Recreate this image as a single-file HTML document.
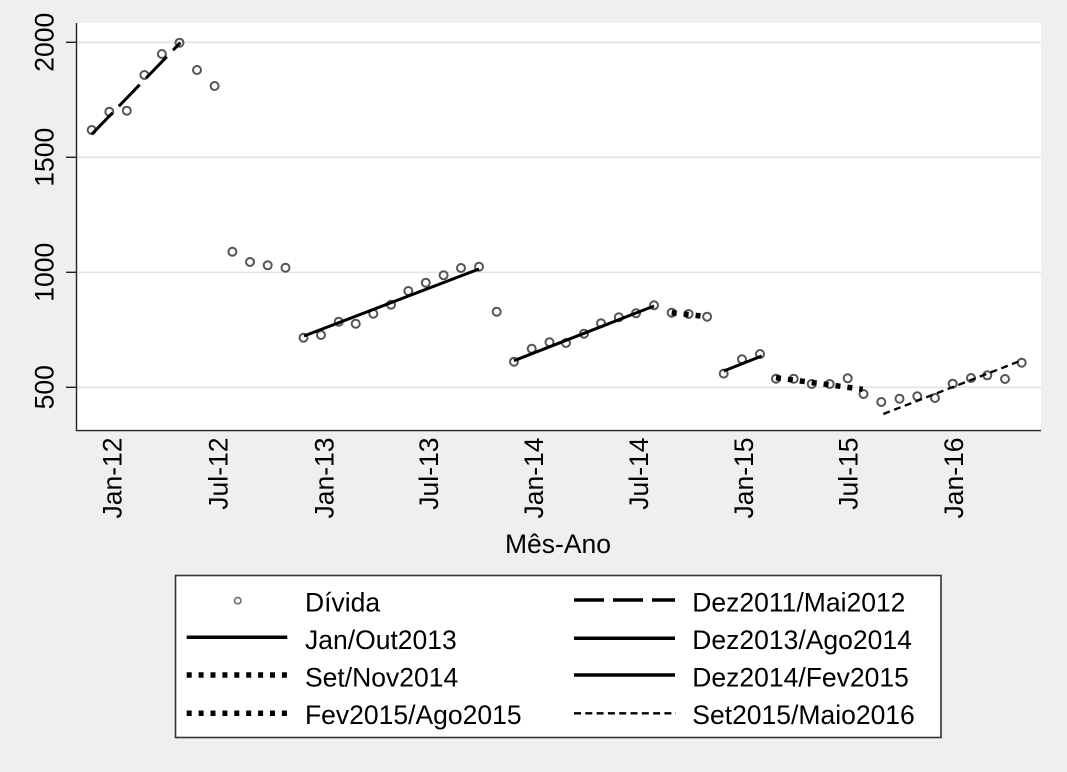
<!DOCTYPE html>
<html>
<head>
<meta charset="utf-8">
<style>
html,body{margin:0;padding:0;background:#efefef;}
svg{display:block;}
text{font-family:"Liberation Sans",Arial,sans-serif;font-size:26.5px;fill:#000;}
</style>
</head>
<body>
<svg width="1067" height="772" viewBox="0 0 1067 772" xmlns="http://www.w3.org/2000/svg">
<rect x="0" y="0" width="1067" height="772" fill="#efefef"/>
<rect x="77" y="23" width="964" height="407.5" fill="#ffffff"/>
<g stroke="#e4e4e4" stroke-width="1.6">
<line x1="77" y1="42.3" x2="1041" y2="42.3"/>
<line x1="77" y1="157.3" x2="1041" y2="157.3"/>
<line x1="77" y1="272.3" x2="1041" y2="272.3"/>
<line x1="77" y1="387.3" x2="1041" y2="387.3"/>
</g>
<g stroke="#222" stroke-width="1.4">
<line x1="76.5" y1="23" x2="76.5" y2="431"/>
<line x1="76" y1="430.6" x2="1041" y2="430.6"/>
<line x1="66" y1="42.3" x2="76.5" y2="42.3"/>
<line x1="66" y1="157.3" x2="76.5" y2="157.3"/>
<line x1="66" y1="272.3" x2="76.5" y2="272.3"/>
<line x1="66" y1="387.3" x2="76.5" y2="387.3"/>
</g>
<text transform="translate(53.5,42.3) rotate(-90)" text-anchor="middle">2000</text>
<text transform="translate(53.5,157.3) rotate(-90)" text-anchor="middle">1500</text>
<text transform="translate(53.5,272.3) rotate(-90)" text-anchor="middle">1000</text>
<text transform="translate(53.5,387.3) rotate(-90)" text-anchor="middle">500</text>
<text transform="translate(121.5,437.5) rotate(-90)" text-anchor="end">Jan-12</text>
<text transform="translate(227.5,437.5) rotate(-90)" text-anchor="end">Jul-12</text>
<text transform="translate(333.5,437.5) rotate(-90)" text-anchor="end">Jan-13</text>
<text transform="translate(438,437.5) rotate(-90)" text-anchor="end">Jul-13</text>
<text transform="translate(543,437.5) rotate(-90)" text-anchor="end">Jan-14</text>
<text transform="translate(648,437.5) rotate(-90)" text-anchor="end">Jul-14</text>
<text transform="translate(753,437.5) rotate(-90)" text-anchor="end">Jan-15</text>
<text transform="translate(857.5,437.5) rotate(-90)" text-anchor="end">Jul-15</text>
<text transform="translate(963,437.5) rotate(-90)" text-anchor="end">Jan-16</text>
<text x="558" y="553" text-anchor="middle">Mês-Ano</text>
<g fill="none" stroke="#555" stroke-width="2">
<circle cx="91.7" cy="130" r="4"/>
<circle cx="109.3" cy="111.7" r="4"/>
<circle cx="126.8" cy="110.7" r="4"/>
<circle cx="144.4" cy="75" r="4"/>
<circle cx="161.9" cy="54" r="4"/>
<circle cx="179.5" cy="42.7" r="4"/>
<circle cx="197.0" cy="70" r="4"/>
<circle cx="214.6" cy="86" r="4"/>
<circle cx="232.4" cy="251.7" r="4"/>
<circle cx="250.0" cy="262" r="4"/>
<circle cx="267.7" cy="265.3" r="4"/>
<circle cx="285.5" cy="267.7" r="4"/>
<circle cx="303.5" cy="337.7" r="4"/>
<circle cx="321.0" cy="335" r="4"/>
<circle cx="338.7" cy="321.7" r="4"/>
<circle cx="355.7" cy="323.7" r="4"/>
<circle cx="373.3" cy="313.7" r="4"/>
<circle cx="391.0" cy="304.7" r="4"/>
<circle cx="408.3" cy="291" r="4"/>
<circle cx="425.8" cy="282.7" r="4"/>
<circle cx="443.6" cy="275.3" r="4"/>
<circle cx="461.0" cy="268" r="4"/>
<circle cx="479.0" cy="266.7" r="4"/>
<circle cx="496.7" cy="311.7" r="4"/>
<circle cx="514.0" cy="361.7" r="4"/>
<circle cx="531.7" cy="348.7" r="4"/>
<circle cx="549.5" cy="342.3" r="4"/>
<circle cx="566.0" cy="343" r="4"/>
<circle cx="584.0" cy="333.7" r="4"/>
<circle cx="601.0" cy="323.3" r="4"/>
<circle cx="618.8" cy="317.3" r="4"/>
<circle cx="636.0" cy="313.3" r="4"/>
<circle cx="654.0" cy="305.3" r="4"/>
<circle cx="671.7" cy="312.7" r="4"/>
<circle cx="688.6" cy="314" r="4"/>
<circle cx="707.1" cy="316.7" r="4"/>
<circle cx="723.7" cy="373.6" r="4"/>
<circle cx="742.0" cy="359.3" r="4"/>
<circle cx="760.0" cy="354" r="4"/>
<circle cx="776.0" cy="378.7" r="4"/>
<circle cx="793.7" cy="378.7" r="4"/>
<circle cx="811.7" cy="384" r="4"/>
<circle cx="829.7" cy="384" r="4"/>
<circle cx="847.7" cy="378.3" r="4"/>
<circle cx="863.5" cy="394" r="4"/>
<circle cx="881.3" cy="402" r="4"/>
<circle cx="899.5" cy="398.7" r="4"/>
<circle cx="917.3" cy="396.3" r="4"/>
<circle cx="935.0" cy="398" r="4"/>
<circle cx="952.7" cy="383.7" r="4"/>
<circle cx="971.0" cy="378" r="4"/>
<circle cx="987.3" cy="375.3" r="4"/>
<circle cx="1005.0" cy="379" r="4"/>
<circle cx="1021.7" cy="362.7" r="4"/>
</g>
<g stroke="#000" fill="none">
<line x1="91.7" y1="134.3" x2="180.3" y2="42.7" stroke-width="3" stroke-dasharray="30 9"/>
<line x1="304" y1="336" x2="479" y2="269" stroke-width="3"/>
<line x1="514" y1="360.7" x2="654" y2="306" stroke-width="3"/>
<line x1="671.7" y1="312.7" x2="707" y2="316.7" stroke-width="5.5" stroke-dasharray="5 7"/>
<line x1="723.7" y1="371" x2="761.7" y2="356" stroke-width="3"/>
<line x1="776" y1="377.7" x2="862.7" y2="389.3" stroke-width="5.5" stroke-dasharray="5 7"/>
<line x1="883.3" y1="414" x2="1020" y2="361" stroke-width="2.3" stroke-dasharray="7 4.5"/>
</g>
<rect x="175.5" y="575.5" width="765.5" height="162" fill="#ffffff" stroke="#333" stroke-width="1.6"/>
<circle cx="237.7" cy="600.7" r="3.2" fill="none" stroke="#666" stroke-width="1.5"/>
<g stroke="#000" fill="none">
<line x1="186.7" y1="637.3" x2="287.3" y2="637.3" stroke-width="3.5"/>
<line x1="186.7" y1="675" x2="289" y2="675" stroke-width="5.5" stroke-dasharray="5 6.9"/>
<line x1="186.7" y1="713.3" x2="289" y2="713.3" stroke-width="5.5" stroke-dasharray="5 6.9"/>
<line x1="574" y1="600" x2="675" y2="600" stroke-width="3.5" stroke-dasharray="30 9"/>
<line x1="574" y1="638.3" x2="675" y2="638.3" stroke-width="3.5"/>
<line x1="574" y1="675" x2="675" y2="675" stroke-width="3.5"/>
<line x1="574" y1="713.3" x2="676" y2="713.3" stroke-width="2.3" stroke-dasharray="7 4.3"/>
</g>
<text x="305" y="611.5">Dívida</text>
<text x="305" y="649">Jan/Out2013</text>
<text x="305" y="686.5">Set/Nov2014</text>
<text x="305" y="724">Fev2015/Ago2015</text>
<text x="692.3" y="611.5">Dez2011/Mai2012</text>
<text x="692.3" y="649">Dez2013/Ago2014</text>
<text x="692.3" y="686.5">Dez2014/Fev2015</text>
<text x="692.3" y="724">Set2015/Maio2016</text>
</svg>
</body>
</html>
